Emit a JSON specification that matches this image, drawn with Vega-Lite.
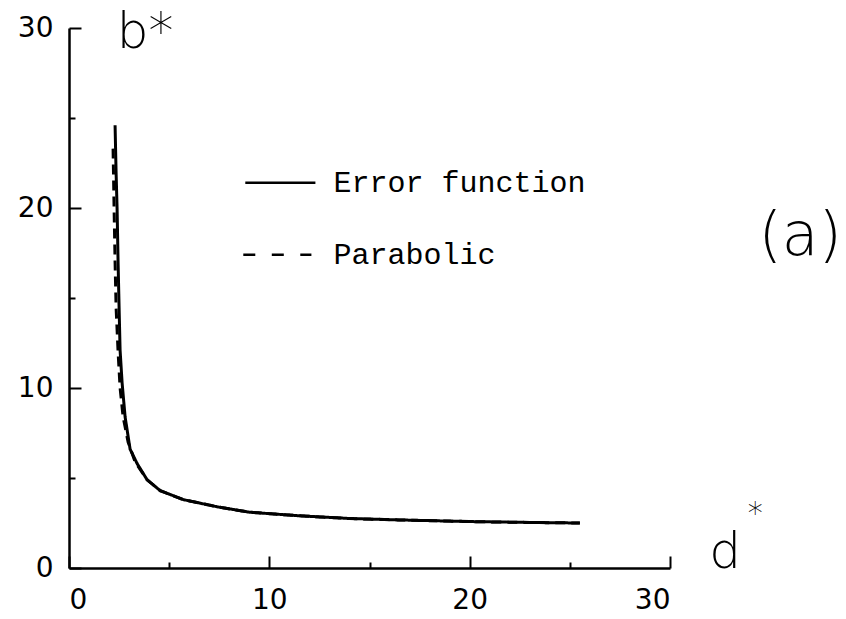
{
  "$schema": "https://vega.github.io/schema/vega-lite/v6.json",
  "width": 601,
  "height": 540,
  "autosize": "none",
  "padding": {"left": 69, "top": 28, "right": 176, "bottom": 51},
  "background": "white",
  "config": {
    "view": {"stroke": null}
  },
  "datasets": {
    "curves": [
      {"series": "Parabolic", "x": 2.2, "y": 23.3},
      {"series": "Parabolic", "x": 2.25, "y": 20},
      {"series": "Parabolic", "x": 2.3, "y": 17},
      {"series": "Parabolic", "x": 2.35, "y": 14.5},
      {"series": "Parabolic", "x": 2.45, "y": 12},
      {"series": "Parabolic", "x": 2.55, "y": 10},
      {"series": "Parabolic", "x": 2.7, "y": 8.4},
      {"series": "Parabolic", "x": 2.95, "y": 7},
      {"series": "Parabolic", "x": 3.3, "y": 5.9},
      {"series": "Parabolic", "x": 3.9, "y": 4.9},
      {"series": "Parabolic", "x": 4.55, "y": 4.3},
      {"series": "Parabolic", "x": 5.7, "y": 3.8},
      {"series": "Parabolic", "x": 7.4, "y": 3.4},
      {"series": "Parabolic", "x": 9.0, "y": 3.1},
      {"series": "Parabolic", "x": 11.5, "y": 2.9},
      {"series": "Parabolic", "x": 14, "y": 2.75},
      {"series": "Parabolic", "x": 16.5, "y": 2.67},
      {"series": "Parabolic", "x": 20, "y": 2.58},
      {"series": "Parabolic", "x": 23, "y": 2.53},
      {"series": "Parabolic", "x": 25.5, "y": 2.5},
      {"series": "Error function", "x": 2.3, "y": 24.6},
      {"series": "Error function", "x": 2.35, "y": 22},
      {"series": "Error function", "x": 2.4, "y": 20},
      {"series": "Error function", "x": 2.45, "y": 17},
      {"series": "Error function", "x": 2.5, "y": 14.5},
      {"series": "Error function", "x": 2.55, "y": 12.1},
      {"series": "Error function", "x": 2.65, "y": 10.3},
      {"series": "Error function", "x": 2.8, "y": 8.4},
      {"series": "Error function", "x": 3.05, "y": 6.6},
      {"series": "Error function", "x": 3.4, "y": 5.8},
      {"series": "Error function", "x": 3.9, "y": 4.9},
      {"series": "Error function", "x": 4.55, "y": 4.3},
      {"series": "Error function", "x": 5.7, "y": 3.8},
      {"series": "Error function", "x": 7.4, "y": 3.4},
      {"series": "Error function", "x": 9.0, "y": 3.1},
      {"series": "Error function", "x": 11.5, "y": 2.9},
      {"series": "Error function", "x": 14, "y": 2.75},
      {"series": "Error function", "x": 16.5, "y": 2.67},
      {"series": "Error function", "x": 20, "y": 2.58},
      {"series": "Error function", "x": 23, "y": 2.53},
      {"series": "Error function", "x": 25.5, "y": 2.5}
    ],
    "legend": [
      {"series": "Error function", "x": 8.8, "x2": 12.3, "y": 21.4, "tx": 13.2},
      {"series": "Parabolic", "x": 8.7, "x2": 12.1, "y": 17.4, "tx": 13.2}
    ],
    "bigLabels": [
      {"label": "b*", "x": 3.8, "y": 28.9, "size": "l"},
      {"label": "d", "x": 32.75, "y": 0, "size": "l"},
      {"label": "*", "x": 34.25, "y": 2.5, "size": "s"},
      {"label": "(a)", "x": 36.5, "y": 17.4, "size": "xl"}
    ]
  },
  "resolve": {"axis": {"x": "independent", "y": "independent"}},
  "layer": [
    {
      "data": {"name": "curves"},
      "mark": {"type": "line", "color": "black", "strokeWidth": 3, "clip": false},
      "encoding": {
        "x": {
          "field": "x", "type": "quantitative", "title": null,
          "scale": {"domain": [0, 30], "nice": false},
          "axis": {
            "orient": "bottom",
            "values": [0, 10, 20, 30],
            "grid": false,
            "domainColor": "black",
            "domainWidth": 2.5,
            "ticks": true,
            "tickColor": "black",
            "tickWidth": 2,
            "tickSize": -12,
            "labelPadding": 30,
            "labelFont": "DejaVu Sans",
            "labelFontSize": 28,
            "labelColor": "black"
          }
        },
        "y": {
          "field": "y", "type": "quantitative", "title": null,
          "scale": {"domain": [0, 30], "nice": false},
          "axis": {
            "orient": "left",
            "values": [0, 10, 20, 30],
            "grid": false,
            "domainColor": "black",
            "domainWidth": 2.5,
            "ticks": true,
            "tickColor": "black",
            "tickWidth": 2,
            "tickSize": -12,
            "labelPadding": 28,
            "labelFont": "DejaVu Sans",
            "labelFontSize": 28,
            "labelColor": "black"
          }
        },
        "detail": {"field": "series"},
        "strokeDash": {
          "field": "series", "type": "nominal", "legend": null,
          "scale": {"domain": ["Error function", "Parabolic"], "range": [[1, 0], [10, 6]]}
        },
        "order": {"field": "x", "type": "quantitative"}
      }
    },
    {
      "data": {"name": "legend"},
      "transform": [{"filter": "datum.series === 'Error function'"}],
      "mark": {"type": "rule", "color": "black", "strokeWidth": 2.5},
      "encoding": {
        "x": {
          "field": "x", "type": "quantitative", "title": null,
          "axis": {"orient": "bottom", "values": [5, 15, 25], "labels": false, "domain": false, "grid": false, "ticks": true, "tickColor": "black", "tickWidth": 2, "tickSize": -6}
        },
        "x2": {"field": "x2"},
        "y": {
          "field": "y", "type": "quantitative", "title": null,
          "axis": {"orient": "left", "values": [5, 15, 25], "labels": false, "domain": false, "grid": false, "ticks": true, "tickColor": "black", "tickWidth": 2, "tickSize": -6}
        }
      }
    },
    {
      "data": {"name": "legend"},
      "transform": [{"filter": "datum.series === 'Parabolic'"}],
      "mark": {"type": "rule", "color": "black", "strokeWidth": 2.5, "strokeDash": [12, 16.5]},
      "encoding": {
        "x": {"field": "x", "type": "quantitative", "title": null, "axis": null},
        "x2": {"field": "x2"},
        "y": {"field": "y", "type": "quantitative", "title": null, "axis": null}
      }
    },
    {
      "data": {"name": "legend"},
      "mark": {"type": "text", "align": "left", "baseline": "middle", "font": "Liberation Mono", "fontSize": 30, "color": "black"},
      "encoding": {
        "x": {"field": "tx", "type": "quantitative", "title": null, "axis": null},
        "y": {"field": "y", "type": "quantitative", "title": null, "axis": null},
        "text": {"field": "series"}
      }
    },
    {
      "data": {"name": "bigLabels"},
      "transform": [{"filter": "datum.size === 'l'"}],
      "mark": {"type": "text", "align": "center", "baseline": "alphabetic", "font": "DejaVu Sans", "fontWeight": 300, "fontSize": 50, "color": "black"},
      "encoding": {
        "x": {"field": "x", "type": "quantitative", "title": null, "axis": null},
        "y": {"field": "y", "type": "quantitative", "title": null, "axis": null},
        "text": {"field": "label"}
      }
    },
    {
      "data": {"name": "bigLabels"},
      "transform": [{"filter": "datum.size === 's'"}],
      "mark": {"type": "text", "align": "center", "baseline": "alphabetic", "font": "DejaVu Sans", "fontWeight": 300, "fontSize": 30, "color": "black"},
      "encoding": {
        "x": {"field": "x", "type": "quantitative", "title": null, "axis": null},
        "y": {"field": "y", "type": "quantitative", "title": null, "axis": null},
        "text": {"field": "label"}
      }
    },
    {
      "data": {"name": "bigLabels"},
      "transform": [{"filter": "datum.size === 'xl'"}],
      "mark": {"type": "text", "align": "center", "baseline": "alphabetic", "font": "DejaVu Sans", "fontWeight": 300, "fontSize": 60, "color": "black"},
      "encoding": {
        "x": {"field": "x", "type": "quantitative", "title": null, "axis": null},
        "y": {"field": "y", "type": "quantitative", "title": null, "axis": null},
        "text": {"field": "label"}
      }
    }
  ]
}
